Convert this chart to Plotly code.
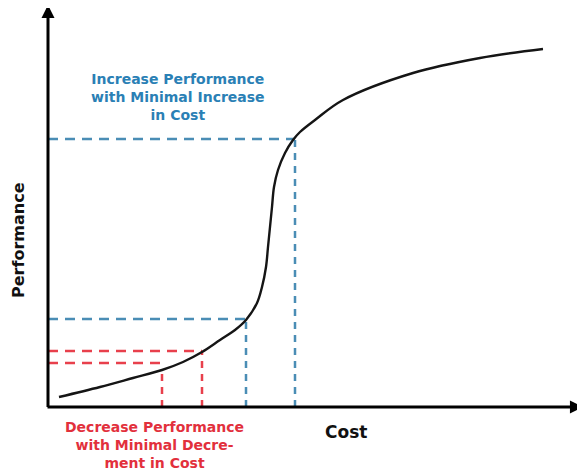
import plotly.graph_objects as go

# Performance vs cost S-curve (arbitrary units)
cost = [2.2, 10.4, 17.0, 22.8, 27.0, 30.8, 34.4, 37.4, 39.6, 41.8, 42.8, 43.6, 44.0,
        44.4, 44.8, 45.2, 46.0, 47.4, 49.0, 50.4, 53.4, 59.0, 73.0, 86.4, 99.0]
performance = [2.5, 5.0, 7.25, 9.25, 11.25, 13.75, 16.75, 19.25, 21.75, 26.0, 30.0, 35.0, 40.0,
               45.0, 50.0, 55.0, 59.25, 63.5, 66.75, 68.75, 71.75, 76.75, 83.5, 87.25, 89.5]

# Guide levels (cost, performance) for dashed reference lines
red_cost = [22.8, 30.8]
red_perf_h = [11.0, 14.0]
red_perf_v = [8.5, 14.0]
blue_cost = [39.6, 49.4]
blue_perf = [22.0, 67.0]

blue_text = ["Increase Performance", "with Minimal Increase", "in Cost"]
red_text = ["Decrease Performance", "with Minimal Decre-", "ment in Cost"]
x_label = "Cost"
y_label = "Performance"

BLUE_LINE = "#4a8db5"
BLUE_TEXT = "#2a80b5"
RED_LINE = "#e8404c"
RED_TEXT = "#e2303c"
FONT = "DejaVu Sans"

fig = go.Figure()

def guides(cs, ph, pv, color):
    for c, h, v in zip(cs, ph, pv):
        fig.add_trace(go.Scatter(x=[0, c], y=[h, h], mode="lines",
                                 line=dict(color=color, width=2.5, dash="10px,7px"),
                                 hoverinfo="skip", showlegend=False))
        fig.add_trace(go.Scatter(x=[c, c], y=[0, v], mode="lines",
                                 line=dict(color=color, width=2.5, dash="7px,6px"),
                                 hoverinfo="skip", showlegend=False))

guides(red_cost, red_perf_h, red_perf_v, RED_LINE)
guides(blue_cost, blue_perf, blue_perf, BLUE_LINE)

fig.add_trace(go.Scatter(x=cost, y=performance, mode="lines",
                         line=dict(color="#151515", width=2.4, shape="spline", smoothing=1.0),
                         showlegend=False))

annotations = []
# axes with arrowheads
annotations.append(dict(x=107.0, y=0, ax=-0.4, ay=0, xref="x", yref="y", axref="x", ayref="y",
                        text="", showarrow=True, arrowhead=2, arrowsize=0.87, arrowwidth=3,
                        arrowcolor="#000000", standoff=0, startstandoff=0))
annotations.append(dict(x=0, y=100.5, ax=0, ay=-0.4, xref="x", yref="y", axref="x", ayref="y",
                        text="", showarrow=True, arrowhead=2, arrowsize=0.87, arrowwidth=3,
                        arrowcolor="#000000", standoff=0, startstandoff=0))

annotations.append(dict(x=26.0, y=77.6, xref="x", yref="y", text="<b>" + "<br>".join(blue_text) + "</b>",
                        showarrow=False, align="center",
                        font=dict(family=FONT, size=14, color=BLUE_TEXT)))
annotations.append(dict(x=21.2, y=-9.4, xref="x", yref="y", text="<b>" + "<br>".join(red_text) + "</b>",
                        showarrow=False, align="center",
                        font=dict(family=FONT, size=14, color=RED_TEXT)))

annotations.append(dict(x=59.6, y=-6.25, xref="x", yref="y", text="<b>" + x_label + "</b>",
                        showarrow=False, font=dict(family=FONT, size=17, color="#111111")))
annotations.append(dict(x=-6.0, y=41.75, xref="x", yref="y", text="<b>" + y_label + "</b>",
                        textangle=-90, showarrow=False, font=dict(family=FONT, size=16, color="#111111")))

# the page adds an 8px body margin, so the figure is sized to fill the rest of the window
fig.update_layout(
    width=577, height=462,
    margin=dict(l=0, r=0, t=0, b=0),
    paper_bgcolor="white", plot_bgcolor="white",
    xaxis=dict(visible=False, range=[-8.0, 107.4], fixedrange=True),
    yaxis=dict(visible=False, range=[-15.75, 99.75], fixedrange=True),
    annotations=annotations,
    showlegend=False,
)

fig.write_html("out.html")
